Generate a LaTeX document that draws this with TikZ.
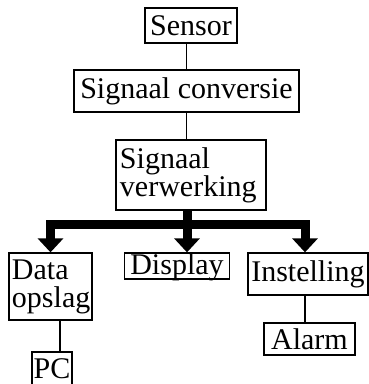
\documentclass[tikz,border=0pt]{standalone}
\usepackage{fontspec}
\setmainfont{Liberation Serif}
\usetikzlibrary{arrows.meta}
\begin{document}
\begin{tikzpicture}[x=1pt,y=-1pt,
  box/.style={draw, line width=1.3pt, inner sep=0pt, font=\fontsize{30pt}{28pt}\selectfont},
  link/.style={line width=1.4pt},
  tip/.tip={Triangle[width=25pt,length=14pt]},
  bus/.style={line width=9pt, line join=miter}]
\useasboundingbox (0,0) rectangle (369,384);
\node[box, minimum width=92pt, minimum height=35pt] (sensor) at (191,25.5) {Sensor};
\node[box, minimum width=225pt, minimum height=42pt] (conv) at (186.5,91) {Signaal conversie};
\node[box, text width=142pt, align=left, inner xsep=4pt, minimum height=70pt] (verw) at (191,175) {Signaal\\verwerking};
\node[box, text width=77pt, align=left, inner xsep=3pt, minimum height=67pt] (data) at (50.5,286.5) {Data\\opslag};
\node[box, minimum width=105pt, minimum height=26pt, text depth=3pt] (disp) at (177,266) {Display};
\node[box, minimum width=120pt, minimum height=42pt] (inst) at (308,274) {Instelling};
\node[box, minimum width=91pt, minimum height=32pt] (alarm) at (309.5,339) {Alarm};
\node[box, minimum width=40pt, minimum height=33pt] (pc) at (52,368.5) {PC};
\coordinate (busr) at (305,224);
\coordinate (busm) at (187,224);
\coordinate (dp) at (60,0);
\draw[link] (sensor.south -| conv.north) -- (conv.north);
\draw[link] (conv.south) -- (conv.south |- verw.north);
\draw[bus] (verw.south -| busm) -- (busm);
\draw[bus, tip-tip] (data.north) -- (data.north |- busr) -- (busr) -- (busr |- inst.north);
\draw[bus, -tip] (busm) -- (busm |- disp.north);
\draw[link] (data.south -| dp) -- (pc.north -| dp);
\draw[link] (inst.south -| busr) -- (alarm.north -| busr);
\end{tikzpicture}
\end{document}
